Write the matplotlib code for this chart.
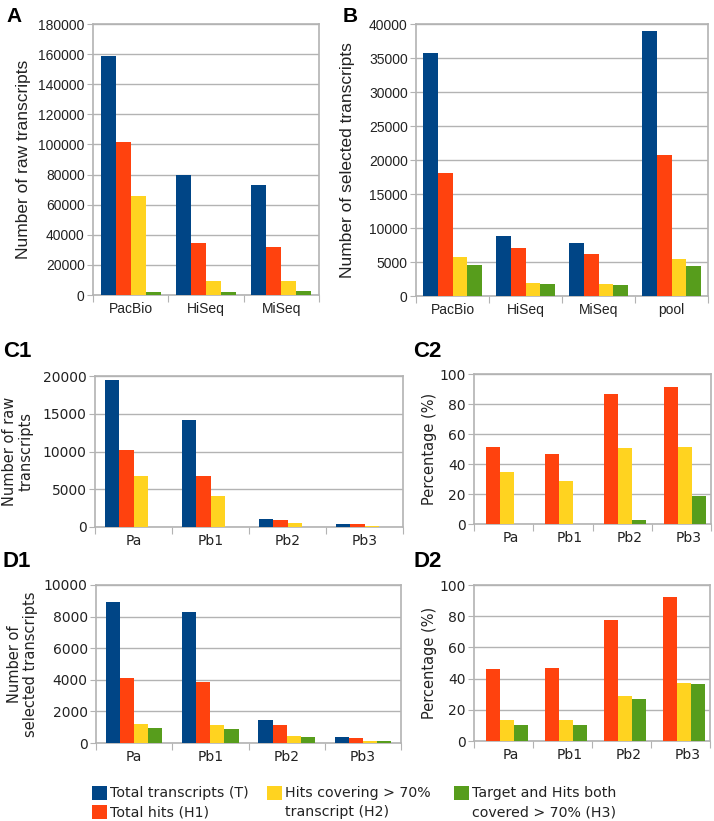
import numpy as np
import matplotlib
matplotlib.use("Agg")
import matplotlib.pyplot as plt
from matplotlib.patches import Rectangle

# colores estilo LibreOffice
colores = ["#004586", "#ff420e", "#ffd320", "#579d1c"]
series = ["Total transcripts (T)", "Total hits (H1)",
          "Hits covering > 70%\ntranscript (H2)",
          "Target and Hits both\ncovered > 70% (H3)"]

# Panel A
cat_a = ["PacBio", "HiSeq", "MiSeq"]
a_T = [158800, 79600, 73300]
a_H1 = [101800, 34300, 32000]
a_H2 = [65600, 9000, 9000]
a_H3 = [2200, 2200, 2400]

# Panel B
cat_b = ["PacBio", "HiSeq", "MiSeq", "pool"]
b_T = [35700, 8750, 7850, 38900]
b_H1 = [18100, 7070, 6180, 20760]
b_H2 = [5740, 1860, 1720, 5500]
b_H3 = [4520, 1770, 1620, 4470]

# Panel C1
cat_c = ["Pa", "Pb1", "Pb2", "Pb3"]
c1_T = [19450, 14150, 1070, 450]
c1_H1 = [10150, 6720, 930, 420]
c1_H2 = [6800, 4100, 580, 150]
c1_H3 = [0, 0, 0, 0]

# Panel C2 (%)
c2_H1 = [51.6, 46.9, 87.0, 91.3]
c2_H2 = [34.6, 28.8, 50.7, 51.1]
c2_H3 = [0, 0, 2.9, 18.5]

# Panel D1
d1_T = [8920, 8310, 1460, 360]
d1_H1 = [4120, 3870, 1140, 330]
d1_H2 = [1200, 1120, 420, 110]
d1_H3 = [930, 870, 380, 100]

# Panel D2 (%)
d2_H1 = [46.1, 46.6, 77.3, 92.1]
d2_H2 = [13.3, 13.3, 28.8, 37.3]
d2_H3 = [10.5, 10.5, 26.8, 36.7]

W, H = 714, 821
fig = plt.figure(figsize=(W / 100, H / 100), dpi=100)

gris = "#b3b3b3"


def caja(l, t, r, b):
    return [l / W, 1 - b / H, (r - l) / W, (b - t) / H]


def panel(rect, cats, datos, cols, offs, ancho, ymax, paso, ylab, fuente,
          fs_tick, fs_lab, lab_off=0.0, lab_x=None):
    ax = fig.add_axes(caja(*rect))
    x = np.arange(len(cats))
    for d, c, o in zip(datos, cols, offs):
        ax.bar(x + o, d, width=ancho, color=c, align="center", zorder=3)
    ax.set_xlim(-0.5, len(cats) - 0.5)
    ax.set_ylim(0, ymax)
    ax.set_yticks(np.arange(0, ymax + 1, paso))
    ax.set_yticklabels([str(int(v)) for v in np.arange(0, ymax + 1, paso)],
                       fontsize=fs_tick, family=fuente, color="#222222")
    ax.set_xticks(np.arange(len(cats) + 1) - 0.5)
    ax.set_xticklabels([])
    ax.set_xticks(x + lab_off, minor=True)
    ax.set_xticklabels(cats, minor=True, fontsize=fs_tick, family=fuente,
                       color="#222222")
    ax.tick_params(axis="x", which="minor", length=0, pad=5)
    ax.tick_params(axis="x", which="major", length=5, color=gris, direction="out")
    ax.tick_params(axis="y", length=4, color=gris, pad=2)
    ax.grid(axis="y", color=gris, linewidth=1, zorder=0)
    for s in ax.spines.values():
        s.set_color(gris)
        s.set_linewidth(1.2)
    ax.set_ylabel(ylab, fontsize=fs_lab, family=fuente, color="#222222",
                  linespacing=1.1)
    if lab_x is not None:
        ax.yaxis.set_label_coords(lab_x, 0.5)
    return ax


w4 = 0.2
offs4 = [-1.5 * w4, -0.5 * w4, 0.5 * w4, 1.5 * w4]
panel((93, 24, 319, 295), cat_a, [a_T, a_H1, a_H2, a_H3], colores, offs4, w4,
      180000, 20000, "Number of raw transcripts", "Liberation Sans", 10, 12.5,
      lab_x=-0.275)
panel((416, 24, 708, 296), cat_b, [b_T, b_H1, b_H2, b_H3], colores, offs4, w4,
      40000, 5000, "Number of selected transcripts", "Liberation Sans", 10, 12.5,
      lab_x=-0.21)

w4c = 0.185
offs4c = [-1.5 * w4c, -0.5 * w4c, 0.5 * w4c, 1.5 * w4c]
panel((95, 376, 403, 527), cat_c, [c1_T, c1_H1, c1_H2, c1_H3], colores, offs4c,
      w4c, 20000, 5000, "Number of raw\ntranscripts", "DejaVu Sans", 10, 10.5,
      lab_x=-0.2)
panel((96, 585, 401, 743), cat_c, [d1_T, d1_H1, d1_H2, d1_H3], colores, offs4c,
      w4c, 10000, 2000, "Number of\nselected transcripts", "DejaVu Sans", 10, 10.5,
      lab_x=-0.19)

w3 = 0.236
offs3 = [-0.182, 0.054, 0.29]
panel((474, 374, 711, 524), cat_c, [c2_H1, c2_H2, c2_H3], colores[1:], offs3,
      w3, 100, 20, "Percentage (%)", "DejaVu Sans", 10, 10.5, lab_off=0.12,
      lab_x=-0.155)
panel((474, 585, 710, 741), cat_c, [d2_H1, d2_H2, d2_H3], colores[1:], offs3,
      w3, 100, 20, "Percentage (%)", "DejaVu Sans", 10, 10.5, lab_off=0.12,
      lab_x=-0.155)

# letras de los paneles
for txt, x, y, fs in [("A", 6, 7, 15), ("B", 343, 7, 15), ("C1", 3, 341, 16),
                      ("C2", 413, 341, 16), ("D1", 3, 551, 16), ("D2", 413, 551, 16)]:
    fig.text(x / W, 1 - y / H, txt, fontsize=fs, fontweight="bold",
             family="Liberation Sans", va="top", ha="left")

# leyenda hecha a mano (columna, fila)
pos_ley = [(92, 786), (92, 805), (267, 786), (454, 786)]
for (px, py), c, lab in zip(pos_ley, colores, series):
    fig.patches.append(Rectangle((px / W, 1 - (py + 14) / H), 15 / W, 14 / H,
                                 transform=fig.transFigure, facecolor=c,
                                 edgecolor="none"))
    for k, linea in enumerate(lab.split("\n")):
        fig.text((px + 18) / W, 1 - (py + 7 + 19 * k) / H, linea,
                 fontsize=10.2, family="DejaVu Sans", va="center", ha="left",
                 color="#222222")

fig.savefig("out.png", dpi=100)
